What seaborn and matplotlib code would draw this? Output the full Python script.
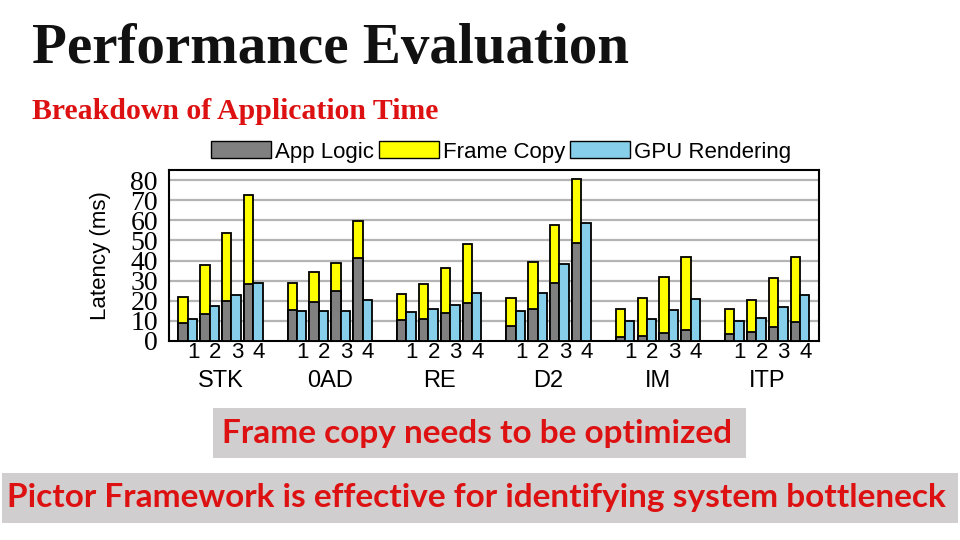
import matplotlib
matplotlib.use("Agg")
import matplotlib.pyplot as plt
from matplotlib.patches import Patch, Rectangle
import numpy as np
import pandas as pd
import seaborn as sns

# data (latency in ms)
workloads = ["STK", "0AD", "RE", "D2", "IM", "ITP"]
configs = ["1", "2", "3", "4"]
app_logic = [8.8, 13.3, 19.8, 28.3,
             15.3, 19.3, 24.8, 41.1,
             10.3, 11.1, 13.8, 19.1,
             7.7, 16.1, 28.6, 48.8,
             1.8, 2.3, 3.8, 5.3,
             3.3, 4.3, 6.8, 9.3]
frame_copy = [13.0, 24.3, 33.9, 44.4,
              13.3, 14.8, 13.8, 18.6,
              13.3, 17.2, 22.5, 29.2,
              13.6, 23.0, 29.1, 31.9,
              14.0, 19.0, 27.8, 36.5,
              12.5, 16.0, 24.5, 32.5]
gpu_rendering = [11.1, 17.3, 22.8, 28.8,
                 14.8, 15.1, 14.8, 20.3,
                 14.3, 15.8, 17.8, 23.8,
                 15.1, 23.8, 38.3, 58.7,
                 9.7, 11.1, 15.3, 20.8,
                 10.1, 11.3, 17.0, 22.8]

C_APP = "#808080"
C_FRAME = "#ffff00"
C_GPU = "#87ceeb"
RED = "#dd1111"

rows = []
for g, w in enumerate(workloads):
    for i, c in enumerate(configs):
        k = g * 4 + i
        rows.append({"workload": w, "config": c, "pos": g * 5 + i,
                     "app": app_logic[k], "frame": frame_copy[k],
                     "gpu": gpu_rendering[k]})
df = pd.DataFrame(rows)
df["total"] = df["app"] + df["frame"]
df["pos_stack"] = df["pos"] - 0.215
df["pos_gpu"] = df["pos"] + 0.215

plt.rcParams["font.family"] = ["Liberation Sans", "DejaVu Sans"]
fig = plt.figure(figsize=(9.6, 5.4), dpi=100)
ax = fig.add_axes([169 / 960, 1 - 341 / 540, 650 / 960, 171 / 540])

bar_kw = dict(native_scale=True, width=0.43, saturation=1, errorbar=None,
              edgecolor="black", linewidth=1.3, orient="x", ax=ax, zorder=3)
sns.barplot(data=df, x="pos_stack", y="total", color=C_FRAME, **bar_kw)
sns.barplot(data=df, x="pos_stack", y="app", color=C_APP, **bar_kw)
sns.barplot(data=df, x="pos_gpu", y="gpu", color=C_GPU, **bar_kw)

ax.set_xlim(-0.855, 28.87)
ax.set_ylim(0, 85)
ax.set_yticks(np.arange(0, 81, 10))
ax.set_yticklabels([str(v) for v in range(0, 81, 10)],
                   family="Liberation Serif", fontsize=20)
for v in range(10, 81, 10):
    ax.axhline(v, color="#b4b4b4", lw=1.6, zorder=1)

# config numbers as minor ticks, workload names as major ticks
ax.set_xticks(df["pos"] + 0.25, minor=True)
ax.set_xticklabels(df["config"], minor=True, fontsize=16)
ax.set_xticks([g * 5 + 1.5 for g in range(len(workloads))])
ax.set_xticklabels(workloads, fontsize=17)
ax.tick_params(axis="x", which="minor", length=0, pad=1)
ax.tick_params(axis="x", which="major", length=0, pad=21)
ax.tick_params(axis="y", length=0, pad=8)
ax.set_xlabel("")
ax.set_ylabel("Latency (ms)", fontsize=16, labelpad=14)
for s in ax.spines.values():
    s.set_color("black")
    s.set_linewidth(1.5)

handles = [Patch(facecolor=C_APP, edgecolor="black", label="App Logic"),
           Patch(facecolor=C_FRAME, edgecolor="black", label="Frame Copy"),
           Patch(facecolor=C_GPU, edgecolor="black", label="GPU Rendering")]
fig.legend(handles=handles, loc="center", bbox_to_anchor=(501 / 960, 1 - 152 / 540),
           ncol=3, frameon=False, fontsize=16, handlelength=2.7, handleheight=0.8,
           handletextpad=0.2, columnspacing=0.2)

fig.text(32 / 960, 1 - 63 / 540, "Performance Evaluation", family="Liberation Serif",
         fontweight="bold", fontsize=41, color="#111111", va="baseline")
fig.text(32 / 960, 1 - 119 / 540, "Breakdown of Application Time",
         family="Liberation Serif", fontweight="bold", fontsize=21.4, color=RED,
         va="baseline")

fig.patches.append(Rectangle((213 / 960, 1 - 458 / 540), 533 / 960, 50 / 540,
                             transform=fig.transFigure, facecolor="#d0cece",
                             edgecolor="none"))
fig.patches.append(Rectangle((2 / 960, 1 - 523 / 540), 956 / 960, 50 / 540,
                             transform=fig.transFigure, facecolor="#d0cece",
                             edgecolor="none"))
fig.text(477 / 960, 1 - 433 / 540, "Frame copy needs to be optimized",
         family="Lato", fontweight="bold", fontsize=24, color=RED,
         ha="center", va="center")
fig.text(476 / 960, 1 - 498 / 540,
         "Pictor Framework is effective for identifying system bottleneck",
         family="Lato", fontweight="bold", fontsize=24, color=RED,
         ha="center", va="center")

fig.savefig("out.png", dpi=100)
